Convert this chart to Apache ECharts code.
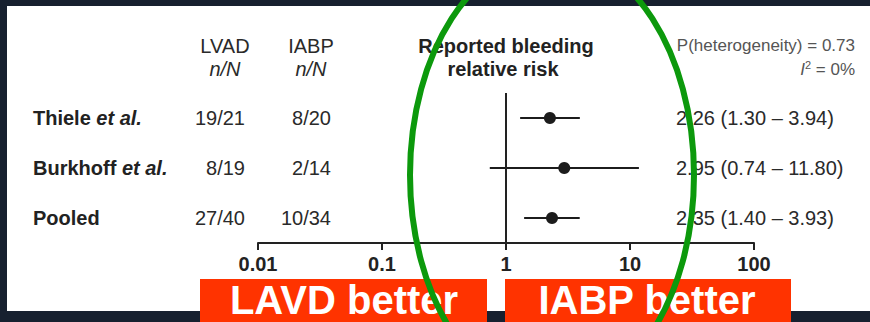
<!DOCTYPE html>
<html>
<head>
<meta charset="utf-8">
<script src="https://cdn.jsdelivr.net/npm/echarts@6/dist/echarts.min.js"></script>
<style>html,body{margin:0;padding:0;background:#17202f;}#c{width:870px;height:322px;}</style>
</head>
<body>
<div id="c"></div>
<script>
const studies = ['Thiele', 'Burkhoff', 'Pooled'];
const studySuffix = ['et al.', 'et al.', ''];
const lvad = ['19/21', '8/19', '27/40'];
const iabp = ['8/20', '2/14', '10/34'];
const rr = [2.26, 2.95, 2.35];
const lo = [1.30, 0.74, 1.40];
const hi = [3.94, 11.80, 3.93];
const tickLabels = ['0.01', '0.1', '1', '10', '100'];
const heterogeneity = 'P(heterogeneity) = 0.73';
const i2 = '0%';

const FONT = "'Liberation Sans', Arial, Helvetica, sans-serif";
const chart = echarts.init(document.getElementById('c'), null, {renderer: 'svg'});

const data = studies.map((s, i) => [rr[i], i, lo[i], hi[i]]);

function renderItem(params, api) {
  const i = params.dataIndex;
  const p = api.coord([api.value(0), i]);
  const pl = api.coord([api.value(2), i]);
  const ph = api.coord([api.value(3), i]);
  const y = p[1];
  const ci = rr[i].toFixed(2) + ' (' + lo[i].toFixed(2) + ' \u2013 ' + hi[i].toFixed(2) + ')';
  return {
    type: 'group',
    children: [
      {type: 'line', shape: {x1: pl[0], y1: y, x2: ph[0], y2: y}, style: {stroke: '#1c1c1c', lineWidth: 2}},
      {type: 'circle', shape: {cx: p[0], cy: y, r: 6}, style: {fill: '#1c1c1c'}},
      {type: 'text', x: 33, y: y, style: {
        text: studySuffix[i] ? '{b|' + studies[i] + ' }{bi|' + studySuffix[i] + '}' : '{b|' + studies[i] + '}',
        rich: {
          b: {fontFamily: FONT, fontSize: 20, fontWeight: 'bold', fill: '#222'},
          bi: {fontFamily: FONT, fontSize: 20, fontWeight: 'bold', fontStyle: 'italic', fill: '#222'}
        },
        align: 'left', verticalAlign: 'middle'}},
      {type: 'text', x: 245, y: y, style: {text: lvad[i], fontFamily: FONT, fontSize: 20, fill: '#2a2a2a', align: 'right', verticalAlign: 'middle'}},
      {type: 'text', x: 331, y: y, style: {text: iabp[i], fontFamily: FONT, fontSize: 20, fill: '#2a2a2a', align: 'right', verticalAlign: 'middle'}},
      {type: 'text', x: 676, y: y, style: {text: ci, fontFamily: FONT, fontSize: 20, fill: '#2a2a2a', align: 'left', verticalAlign: 'middle'}}
    ]
  };
}

const hdr = (x, y, text, extra) => Object.assign({
  type: 'text', x: x, y: y, z: 5,
  style: Object.assign({text: text, fontFamily: FONT, fontSize: 20, fill: '#2a2a2a', align: 'center', verticalAlign: 'middle'}, extra || {})
});

chart.setOption({
  backgroundColor: '#17202f',
  animation: false,
  grid: {left: 258, right: 116, top: 93, bottom: 79},
  xAxis: {
    type: 'log', logBase: 10, min: 0.01, max: 100,
    axisLine: {show: true, lineStyle: {color: '#222', width: 2}},
    axisTick: {show: true, length: 7, lineStyle: {color: '#222', width: 2}},
    splitLine: {show: false},
    axisLabel: {
      margin: 11, fontFamily: FONT, fontSize: 20, fontWeight: 'bold', color: '#222',
      formatter: function (v) {
        const k = Math.round(Math.log10(v)) + 2;
        return tickLabels[k] !== undefined ? tickLabels[k] : '';
      }
    }
  },
  yAxis: {
    type: 'category', data: studies, inverse: true,
    axisLine: {show: false}, axisTick: {show: false}, axisLabel: {show: false}, splitLine: {show: false}
  },
  series: [{
    type: 'custom',
    renderItem: renderItem,
    data: data,
    encode: {x: 0, y: 1},
    clip: false,
    markLine: {
      silent: true, symbol: 'none', animation: false,
      label: {show: false},
      lineStyle: {type: 'solid', color: '#222', width: 2},
      data: [{xAxis: 1}]
    }
  }],
  graphic: [
    {type: 'rect', z: -10, shape: {x: 7, y: 6, width: 863, height: 305}, style: {fill: '#ffffff'}},
    hdr(225, 46, 'LVAD'),
    hdr(225, 69, 'n/N', {fontStyle: 'italic'}),
    hdr(311, 46, 'IABP'),
    hdr(311, 69, 'n/N', {fontStyle: 'italic'}),
    hdr(506, 46, 'Reported bleeding', {fontWeight: 'bold', fill: '#222'}),
    hdr(503, 69, 'relative risk', {fontWeight: 'bold', fill: '#222'}),
    hdr(855, 45, heterogeneity, {fontSize: 17, fill: '#555', align: 'right'}),
    {type: 'text', x: 855, y: 69, z: 5, style: {
      text: '{i|I}{s|2}{n| = ' + i2 + '}',
      rich: {
        i: {fontFamily: FONT, fontSize: 17, fontStyle: 'italic', fill: '#555'},
        s: {fontFamily: FONT, fontSize: 11, fill: '#555', verticalAlign: 'top', padding: [0, 0, 8, 0]},
        n: {fontFamily: FONT, fontSize: 17, fill: '#555'}
      },
      align: 'right', verticalAlign: 'middle'}},
    {type: 'rect', z: 50, shape: {x: 200, y: 279, width: 287, height: 43}, style: {fill: '#ff3300'}},
    {type: 'rect', z: 50, shape: {x: 505, y: 279, width: 286, height: 43}, style: {fill: '#ff3300'}},
    {type: 'rect', z: 50, shape: {x: 489, y: 311, width: 14, height: 11}, style: {fill: '#17202f'}},
    {type: 'text', z: 51, x: 344, y: 300, style: {text: 'LAVD better', fontFamily: FONT, fontSize: 40, fontWeight: 'bold', fill: '#ffffff', align: 'center', verticalAlign: 'middle'}},
    {type: 'text', z: 51, x: 647, y: 300, style: {text: 'IABP better', fontFamily: FONT, fontSize: 40, fontWeight: 'bold', fill: '#ffffff', align: 'center', verticalAlign: 'middle'}},
    {type: 'ellipse', z: 100, shape: {cx: 552, cy: 175, rx: 142, ry: 221}, style: {fill: 'none', stroke: '#0c990c', lineWidth: 6}}
  ]
});
</script>
</body>
</html>
